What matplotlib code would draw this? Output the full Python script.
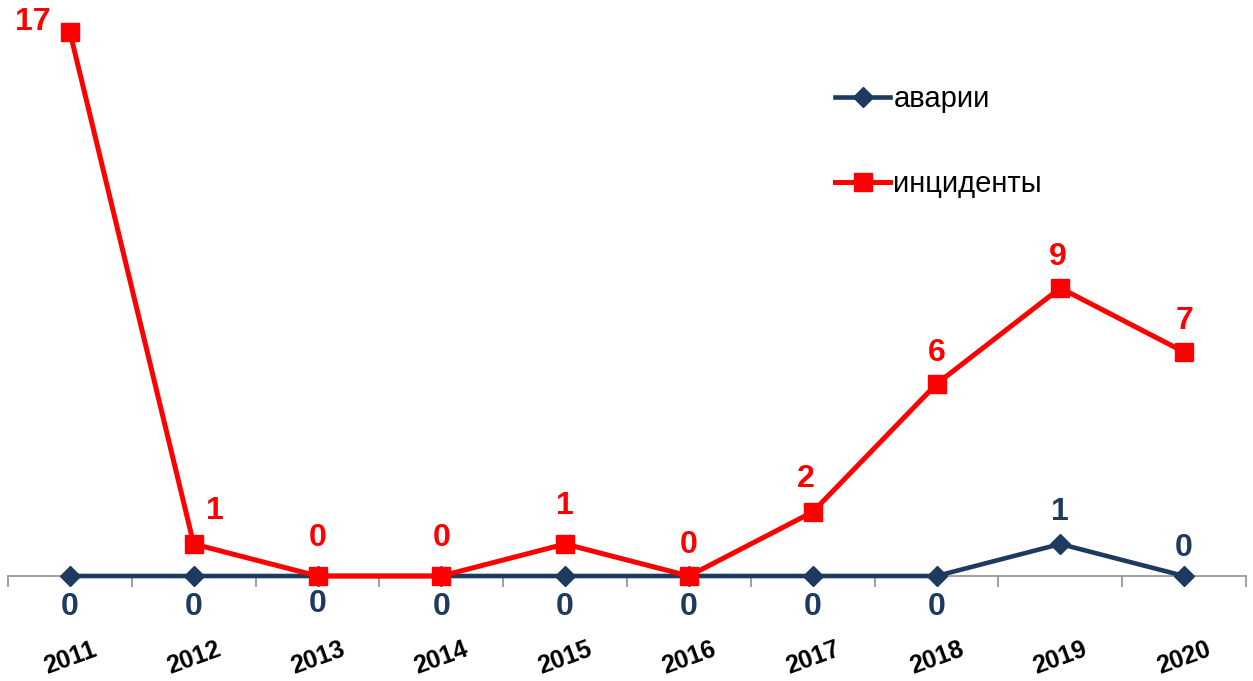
import matplotlib.pyplot as plt

years = ['2011', '2012', '2013', '2014', '2015', '2016', '2017', '2018', '2019', '2020']
accidents = [0, 0, 0, 0, 0, 0, 0, 0, 1, 0]
incidents = [17, 1, 0, 0, 1, 0, 2, 6, 9, 7]

navy = '#1F3A60'
red = '#FF0000'

plt.rcParams['font.family'] = ['Liberation Sans', 'DejaVu Sans']

fig = plt.figure(figsize=(12.53, 6.81), dpi=100)
ax = fig.add_axes([8 / 1253, 1 - 576 / 681, (1246 - 8) / 1253, (576 - 32) / 681])

x = list(range(len(years)))
ax.plot(x, accidents, color=navy, lw=3.3, marker='D', ms=10, label='аварии',
        clip_on=False, zorder=3)
ax.plot(x, incidents, color=red, lw=3.6, marker='s', ms=12.5, label='инциденты',
        clip_on=False, zorder=4)

ax.set_xlim(-0.5, 9.5)
ax.set_ylim(0, 17)

# data labels (offsets in points)
red_off = [(-27, 7), (15, 24), (0, 27), (0, 27), (0, 27), (0, 22), (-5, 24), (0, 22), (-2, 22), (0, 22)]
for i, v in enumerate(incidents):
    ax.annotate(str(v), (i, v), xytext=red_off[i], textcoords='offset points',
                ha='center', va='center', color=red, fontsize=23, fontweight='bold', zorder=5)

navy_off = [(0, -22), (0, -22), (0, -20), (0, -22), (0, -22), (0, -22), (0, -22), (0, -22), (0, 23), (0, 20)]
for i, v in enumerate(accidents):
    ax.annotate(str(v), (i, v), xytext=navy_off[i], textcoords='offset points',
                ha='center', va='center', color=navy, fontsize=23, fontweight='bold', zorder=5)

for s in ['top', 'right', 'left']:
    ax.spines[s].set_visible(False)
ax.spines['bottom'].set_color('#909090')
ax.spines['bottom'].set_linewidth(1.2)
ax.set_yticks([])

ax.set_xticks(x)
ax.set_xticklabels(years, rotation=20, fontsize=18, fontweight='bold')
ax.set_xticks([i - 0.5 for i in range(len(years) + 1)], minor=True)
ax.tick_params(axis='x', which='major', length=0, pad=44)
ax.tick_params(axis='x', which='minor', length=8, width=1.2, color='#909090', direction='out')

ax.legend(loc='center left', bbox_to_anchor=(835 / 1253, 1 - 141.5 / 681),
          bbox_transform=fig.transFigure, frameon=False, fontsize=21,
          handlelength=1.9, handletextpad=0.1, labelspacing=1.95,
          borderpad=0, borderaxespad=0)

fig.savefig('out.png', dpi=100)
